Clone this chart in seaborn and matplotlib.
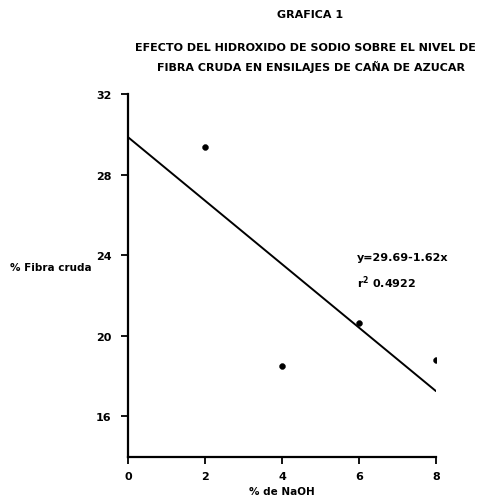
"""
Grafica 1 - efecto del NaOH sobre la fibra cruda
"""

import numpy as np
import pandas as pd
import seaborn as sns
import matplotlib.pyplot as plt

# --- datos ---
naoh = [2, 4, 6, 8]
fibra = [29.35, 18.5, 20.66, 18.8]

# recta de regresion como esta dibujada (extremos)
linea_x = [0, 8]
linea_y = [29.85, 17.26]

x_ticks = [0, 2, 4, 6, 8]
y_ticks = [16, 20, 24, 28, 32]

df = pd.DataFrame({'naoh': naoh, 'fibra': fibra})
df_linea = pd.DataFrame({'x': linea_x, 'y': linea_y})

sns.set_style('white')
plt.rcParams['font.family'] = ['Liberation Sans Narrow', 'DejaVu Sans']
plt.rcParams['font.weight'] = 'bold'
plt.rcParams['text.color'] = 'black'
plt.rcParams['axes.labelcolor'] = 'black'
plt.rcParams['xtick.color'] = 'black'
plt.rcParams['ytick.color'] = 'black'

fig = plt.figure(figsize=(4.78, 5.02), dpi=100)
ax = fig.add_axes([0.268, 0.088, 0.644, 0.723])

sns.lineplot(data=df_linea, x='x', y='y', color='black', linewidth=1.4, ax=ax)
sns.scatterplot(data=df, x='naoh', y='fibra', color='black', s=18, edgecolor='black', ax=ax)

ax.set_xlim(0, 8)
ax.set_ylim(14, 32)
ax.set_xticks(x_ticks)
ax.set_yticks(y_ticks)
ax.tick_params(axis='both', direction='out', length=5, width=1.3, labelsize=8,
               bottom=True, left=True)
ax.tick_params(axis='x', pad=5)
ax.tick_params(axis='y', pad=7)
for lab in ax.get_xticklabels() + ax.get_yticklabels():
    lab.set_fontweight('bold')

sns.despine(ax=ax)
for s in ['left', 'bottom']:
    ax.spines[s].set_linewidth(1.6)
    ax.spines[s].set_color('black')

ax.set_xlabel('% de NaOH', fontsize=7.5, fontweight='bold', labelpad=4)
ax.set_ylabel('')
fig.text(0.02, 1 - 268 / 502, '% Fibra cruda', fontsize=7.5, fontweight='bold',
         ha='left', va='center')

ax.text(5.95, 23.9, 'y=29.69-1.62x', fontsize=8, fontweight='bold', ha='left', va='center')
ax.text(5.95, 22.7, 'r$^\\mathbf{2}$ 0.4922', fontsize=8, fontweight='bold', ha='left', va='center')

fig.text(0.648, 1 - 15 / 502, 'GRAFICA 1', fontsize=8, fontweight='bold', ha='center', va='center')
fig.text(0.64, 1 - 48 / 502, 'EFECTO DEL HIDROXIDO DE SODIO SOBRE EL NIVEL DE',
         fontsize=8, fontweight='bold', ha='center', va='center')
fig.text(0.65, 1 - 67 / 502, 'FIBRA CRUDA EN ENSILAJES DE CAÑA DE AZUCAR',
         fontsize=8, fontweight='bold', ha='center', va='center')

plt.savefig('out.png', dpi=100)
